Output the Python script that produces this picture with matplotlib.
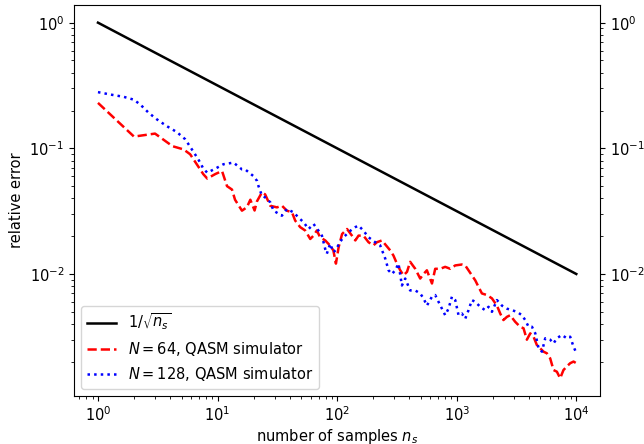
import matplotlib
matplotlib.use("Agg")
import matplotlib.pyplot as plt

plt.rcParams["font.size"] = 10.5

# reference line 1/sqrt(n_s), endpoints
n_ref = [1, 10000]
err_ref = [1.0, 0.01]

# N = 64, QASM simulator (red, dashed)
n_64 = [1, 2, 3, 4.2, 5.2, 5.9, 6.7, 7.6, 8.2, 9.6, 10.9, 12, 13.2, 14, 16, 17.6,
        18.8, 20.4, 21.4, 23.5, 25, 27.6, 31.4, 34.5, 38, 41.9, 44.6, 49.1, 54,
        59.6, 63.5, 67.7, 72, 79.5, 87.5, 93, 97.7, 103, 110, 121, 133, 142, 151,
        166, 183, 201, 215, 237, 278, 296, 316, 337, 359, 384, 408, 450, 495, 528,
        563, 621, 661, 728, 801, 883, 972, 1104, 1178, 1255, 1340, 1429, 1522,
        1625, 1790, 1970, 2170, 2310, 2460, 2630, 2800, 3080, 3390, 3620, 3860,
        4120, 4390, 4680, 4990, 5320, 5670, 6050, 6450, 6880, 7330, 7810, 8340,
        8890, 9480, 10000]
err_64 = [0.230, 0.124, 0.131, 0.104, 0.098, 0.0897, 0.0747, 0.0623, 0.0575,
          0.0625, 0.066, 0.050, 0.047, 0.039, 0.0319, 0.034, 0.039, 0.032, 0.038,
          0.0446, 0.043, 0.0349, 0.0339, 0.035, 0.0319, 0.031, 0.0266, 0.0236,
          0.0222, 0.019, 0.0202, 0.0222, 0.0196, 0.0185, 0.0168, 0.0154, 0.0121,
          0.0164, 0.0208, 0.0228, 0.0202, 0.0185, 0.0202, 0.0202, 0.0179, 0.0169,
          0.0179, 0.0185, 0.0154, 0.014, 0.0121, 0.0107, 0.00975, 0.0104, 0.0125,
          0.011, 0.0092, 0.0100, 0.0107, 0.0084, 0.011, 0.011, 0.0114, 0.011,
          0.0117, 0.0119, 0.0117, 0.0107, 0.00975, 0.0089, 0.0079, 0.0070, 0.0068,
          0.0064, 0.0056, 0.00485, 0.0043, 0.00456, 0.0047, 0.00417, 0.0038,
          0.0037, 0.0030, 0.00337, 0.00317, 0.00272, 0.00256, 0.00241, 0.00234,
          0.00213, 0.00172, 0.00167, 0.00148, 0.00172, 0.00184, 0.00195, 0.00201,
          0.00195]

# N = 128, QASM simulator (blue, dotted)
n_128 = [1, 1.27, 1.64, 1.99, 2.26, 2.65, 3.11, 3.77, 4.57, 5.37, 6.1, 6.9, 7.6,
         8.2, 9.6, 11.2, 13.6, 16, 17, 20, 21.4, 22, 23.5, 25, 27.6, 29.4, 34.5,
         38, 43, 49, 52.4, 57.7, 63.5, 69.9, 74.6, 79.5, 82, 87.5, 93, 99.6, 103,
         113, 129, 142, 151, 166, 183, 208, 229, 253, 269, 287, 306, 326, 348, 371,
         408, 450, 495, 528, 563, 621, 661, 705, 752, 801, 854, 912, 972, 1036,
         1104, 1178, 1255, 1340, 1429, 1573, 1730, 1845, 1970, 2170, 2390, 2630,
         2900, 3190, 3510, 3740, 3990, 4260, 4540, 4840, 5160, 5500, 6050, 6450,
         6880, 7570, 8340, 8890, 9480, 9900]
err_128 = [0.28, 0.268, 0.257, 0.244, 0.223, 0.192, 0.17, 0.150, 0.1346, 0.118,
           0.098, 0.0818, 0.069, 0.064, 0.069, 0.0747, 0.077, 0.068, 0.068, 0.060,
           0.055, 0.050, 0.042, 0.0407, 0.0372, 0.0319, 0.0291, 0.0329, 0.031,
           0.0274, 0.0258, 0.0228, 0.025, 0.0221, 0.0202, 0.0158, 0.0145, 0.0174,
           0.0149, 0.0158, 0.0174, 0.0196, 0.0221, 0.0236, 0.0243, 0.0221, 0.0196,
           0.0179, 0.0169, 0.0132, 0.0107, 0.0100, 0.0107, 0.0121, 0.0081, 0.0092,
           0.0074, 0.0074, 0.0070, 0.0064, 0.0056, 0.0066, 0.0068, 0.0060, 0.0053,
           0.0047, 0.0053, 0.0066, 0.0062, 0.0047, 0.00485, 0.0044, 0.00515,
           0.0062, 0.0060, 0.00548, 0.00515, 0.00548, 0.0050, 0.0062, 0.0056,
           0.0053, 0.00515, 0.0050, 0.0047, 0.0043, 0.0038, 0.0038, 0.00337,
           0.00256, 0.00241, 0.00308, 0.0030, 0.0028, 0.00308, 0.00327, 0.00308,
           0.00317, 0.00264, 0.00241]

fig = plt.figure(figsize=(6.44, 4.44), dpi=100)
ax = fig.add_axes([0.115, 0.108, 0.817, 0.881])

ax.loglog(n_ref, err_ref, "k-", lw=1.8, label=r"$1/\sqrt{n_s}$")
ax.loglog(n_64, err_64, "r--", lw=1.8, label=r"$N=64$, QASM simulator")
ax.loglog(n_128, err_128, "b:", lw=1.8, label=r"$N=128$, QASM simulator")

ax.set_xlabel(r"number of samples $n_s$", labelpad=2)
ax.set_ylabel("relative error")
ax.tick_params(axis="y", which="both", right=True, labelright=True)
ax.legend(loc="lower left")

plt.savefig("out.png", dpi=100)
